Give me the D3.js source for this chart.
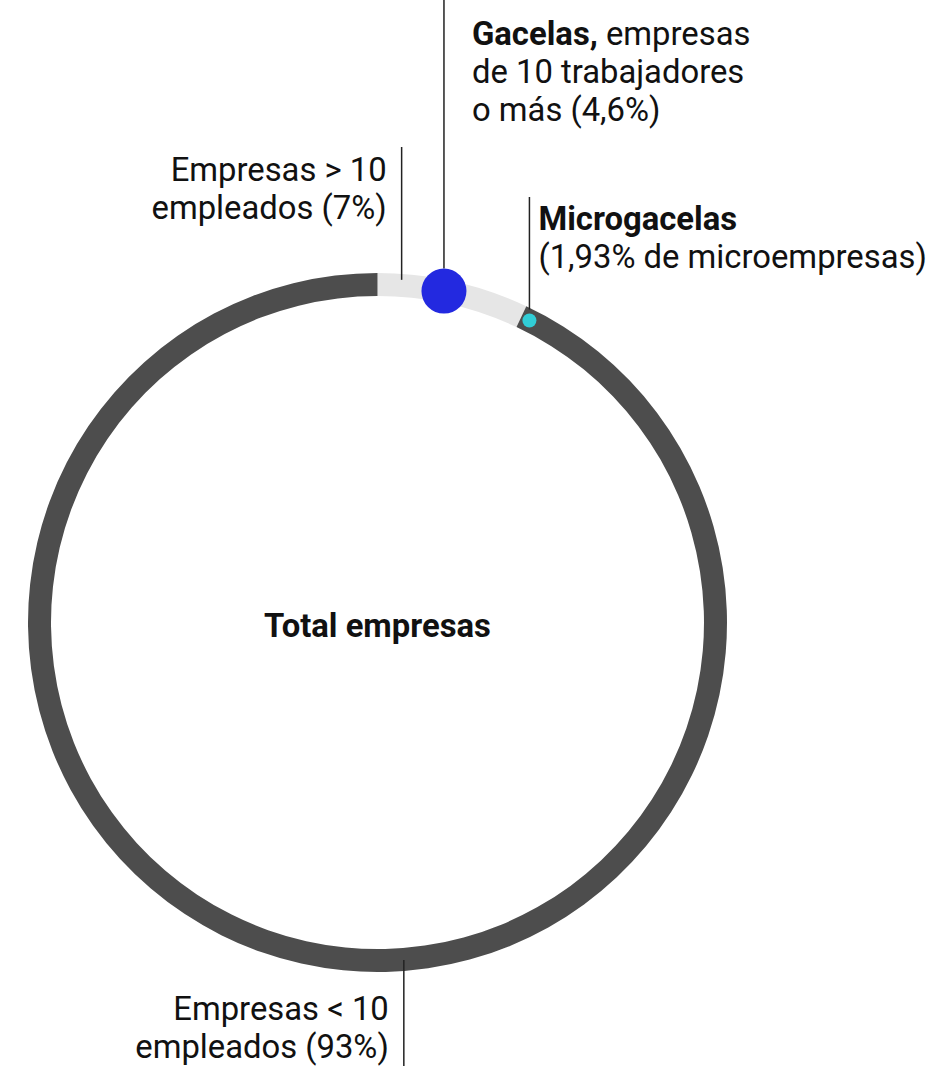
<!DOCTYPE html>
<html lang="es">
<head>
<meta charset="utf-8">
<script src="https://cdn.jsdelivr.net/npm/d3@7"></script>
<style>
  html, body { margin: 0; padding: 0; background: #ffffff; }
  svg { display: block; font-family: Roboto, "Noto Sans", sans-serif; }
</style>
</head>
<body>
<svg id="chart" width="926" height="1066"></svg>
<script>
// Share of all companies by size (percent)
const categories = ["Empresas > 10 empleados", "Empresas < 10 empleados"];
const shares = [7, 93];
const ringColors = ["#e6e6e6", "#4d4d4d"];

// Highlighted groups, placed along the ring (position as percent of the ring)
const highlights = ["Gacelas", "Microgacelas"];
const highlightPos = [3.15, 7.42];
const highlightRadius = [22.5, 7];
const highlightColors = ["#2329e0", "#31cdd6"];

const W = 926, H = 1066;
const cx = 377.5, cy = 622.5;
const rOuter = 349.5, rInner = 326.5;
const rMid = (rOuter + rInner) / 2;

const svg = d3.select("#chart");
const g = svg.append("g").attr("transform", `translate(${cx},${cy})`);

// Ring
const pie = d3.pie().sort(null).value(d => d)(shares);
const arc = d3.arc().innerRadius(rInner).outerRadius(rOuter);
g.selectAll("path.seg")
  .data(pie)
  .join("path")
  .attr("class", "seg")
  .attr("d", arc)
  .attr("fill", (d, i) => ringColors[i]);

// Angle along the ring for a percent position
const angle = d3.scaleLinear().domain([0, 100]).range([0, 2 * Math.PI]);
const pt = (p, r) => [r * Math.sin(angle(p)), -r * Math.cos(angle(p))];

const dots = highlightPos.map((p, i) => {
  const [x, y] = pt(p, rMid);
  return { x: cx + x, y: cy + y, r: highlightRadius[i], c: highlightColors[i] };
});

// Leader lines
const leaders = [];
// > 10 employees: points into the light segment near the top
const upper = pt(1.1, rOuter);
leaders.push({ x: cx + upper[0], y1: 147, y2: cy + upper[1] + 6 });
// < 10 employees: from the bottom of the ring downwards
const lower = pt(48.8, rOuter);
leaders.push({ x: cx + lower[0], y1: cy + lower[1] - 11, y2: H });
// Gacelas
leaders.push({ x: dots[0].x, y1: 0, y2: dots[0].y - dots[0].r });
// Microgacelas
leaders.push({ x: dots[1].x, y1: 197, y2: dots[1].y - dots[1].r - 4 });

svg.append("g").selectAll("line")
  .data(leaders)
  .join("line")
  .attr("x1", d => d.x).attr("x2", d => d.x)
  .attr("y1", d => d.y1).attr("y2", d => d.y2)
  .attr("stroke", "#222")
  .attr("stroke-width", 1.5);

svg.append("g").selectAll("circle")
  .data(dots)
  .join("circle")
  .attr("cx", d => d.x).attr("cy", d => d.y)
  .attr("r", d => d.r)
  .attr("fill", d => d.c);

// Labels
const fs = 32.8, lh = 38;
function label(x, y, anchor, rows) {
  const t = svg.append("text")
    .attr("x", x).attr("y", y)
    .attr("text-anchor", anchor)
    .attr("font-size", fs)
    .attr("fill", "#111");
  rows.forEach((row, i) => {
    const line = t.append("tspan").attr("x", x).attr("dy", i === 0 ? 0 : lh);
    row.forEach(part => {
      line.append("tspan")
        .attr("font-weight", part.b ? 700 : 400)
        .text(part.t);
    });
  });
}

label(leaders[0].x - 15, 181, "end", [
  [{ t: "Empresas > 10" }],
  [{ t: "empleados (" + shares[0] + "%)" }]
]);
label(leaders[1].x - 15, 1020, "end", [
  [{ t: "Empresas < 10" }],
  [{ t: "empleados (" + shares[1] + "%)" }]
]);
label(leaders[2].x + 28, 45, "start", [
  [{ t: highlights[0] + ",", b: true }, { t: " empresas" }],
  [{ t: "de 10 trabajadores" }],
  [{ t: "o más (4,6%)" }]
]);
label(leaders[3].x + 9, 230, "start", [
  [{ t: highlights[1], b: true }],
  [{ t: "(1,93% de microempresas)" }]
]);

svg.append("text")
  .attr("x", cx).attr("y", 637)
  .attr("text-anchor", "middle")
  .attr("font-size", fs)
  .attr("font-weight", 700)
  .attr("fill", "#111")
  .text("Total empresas");
</script>
</body>
</html>
